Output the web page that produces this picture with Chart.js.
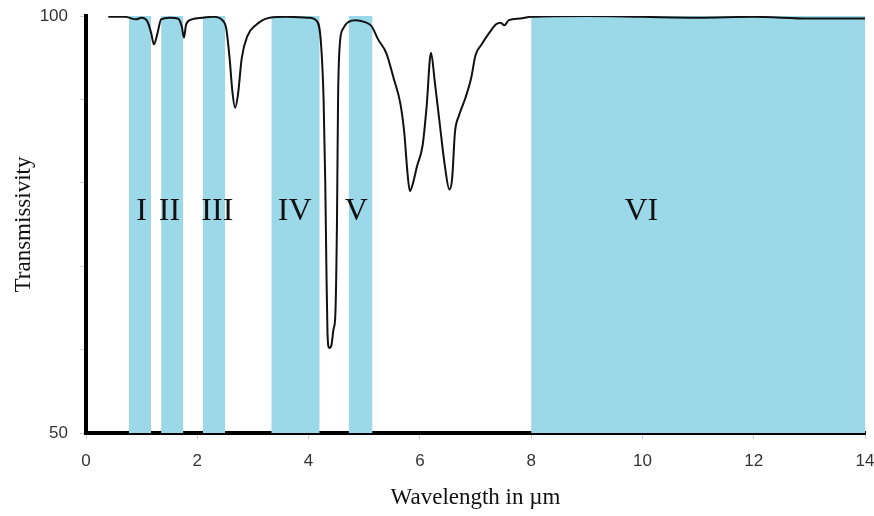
<!DOCTYPE html>
<html>
<head>
<meta charset="utf-8">
<script src="https://cdn.jsdelivr.net/npm/chart.js@4.4.1/dist/chart.umd.min.js"></script>
<style>
  html, body { margin: 0; padding: 0; background: #fff; }
  #wrap { width: 874px; height: 516px; }
</style>
</head>
<body>
<div id="wrap"><canvas id="irChart" width="874" height="516"></canvas></div>
<script>
// spectre de transmission atmosphérique + fenêtres I..VI

const wavelength = [0.4, 0.7, 0.9, 1.0, 1.1, 1.17, 1.22, 1.28, 1.35, 1.5, 1.65, 1.72, 1.76, 1.8, 1.9,
  2.1, 2.3, 2.45, 2.52, 2.58, 2.63, 2.68, 2.73, 2.8, 2.9, 3.05, 3.3, 3.6, 4.0, 4.15,
  4.22, 4.27, 4.3, 4.32, 4.34, 4.37, 4.41, 4.45, 4.48, 4.51, 4.53, 4.56, 4.62, 4.72, 4.85,
  5.0, 5.13, 5.25, 5.4, 5.53, 5.65, 5.72, 5.78, 5.82, 5.87, 5.95, 6.05, 6.12, 6.2, 6.27,
  6.35, 6.45, 6.53, 6.58, 6.63, 6.7, 6.82, 6.92, 7.0, 7.1, 7.25, 7.37, 7.45, 7.52, 7.6,
  7.8, 8.0, 9.0, 10.0, 11.0, 12.0, 13.0, 14.0];
const transmissivity = [99.9, 99.9, 99.6, 99.8, 99.4, 98, 96.6, 97.8, 99.6, 99.8, 99.7, 98.8, 97.4, 99, 99.6,
  99.8, 99.9, 99.5, 98.5, 95, 91, 89.0, 90.5, 95, 97.6, 98.9, 99.8, 99.9, 99.8, 99.4,
  97, 90, 80, 70, 62, 60.2, 60.5, 62.5, 64, 75, 90, 96.5, 98.5, 99.3, 99.5,
  99.3, 98.8, 97.2, 95.5, 92.5, 89.5, 86, 81, 79, 79.8, 82, 84.5, 89, 95.6, 92,
  87.5, 82, 79.2, 80.5, 86, 88, 90.2, 92.5, 95.3, 96.5, 98, 99.0, 99.2, 98.9, 99.5,
  99.7, 99.9, 100, 99.9, 99.8, 99.9, 99.7, 99.7];

// fenêtres atmosphériques (début / fin en µm)
const bandNames = ["I", "II", "III", "IV", "V", "VI"];
const bandStart = [0.77, 1.35, 2.1, 3.33, 4.72, 8.0];
const bandEnd = [1.17, 1.75, 2.5, 4.2, 5.15, 14.0];
const labelX = [1.0, 1.5, 2.36, 3.75, 4.86, 9.98];
const labelY = 76.5;

const xTicks = [0, 2, 4, 6, 8, 10, 12, 14];
const yLabelled = [50, 100];

const BAND_COLOR = "#9bd8e8";

const bandSets = bandNames.map((name, i) => ({
  label: name,
  data: [{ x: bandStart[i], y: 100 }, { x: bandEnd[i], y: 100 }],
  borderWidth: 0,
  pointRadius: 0,
  backgroundColor: BAND_COLOR,
  fill: "start",
  tension: 0,
  order: 2
}));

const curveSet = {
  label: "Transmissivity",
  data: wavelength.map((w, i) => ({ x: w, y: transmissivity[i] })),
  borderColor: "#111",
  borderWidth: 2,
  pointRadius: 0,
  fill: false,
  cubicInterpolationMode: "monotone",
  order: 0
};

const romanLabels = {
  id: "romanLabels",
  afterDatasetsDraw(chart) {
    const { ctx, scales: { x, y } } = chart;
    ctx.save();
    ctx.font = "32px 'Liberation Serif', 'DejaVu Serif', serif";
    ctx.fillStyle = "#111";
    ctx.textAlign = "center";
    ctx.textBaseline = "middle";
    bandNames.forEach((n, i) => {
      ctx.fillText(n, x.getPixelForValue(labelX[i]), y.getPixelForValue(labelY));
    });
    ctx.restore();
  }
};

new Chart(document.getElementById("irChart"), {
  type: "line",
  data: { datasets: [...bandSets, curveSet] },
  options: {
    responsive: false,
    animation: false,
    layout: { padding: { top: 16, right: 9, left: 0, bottom: 0 } },
    plugins: { legend: { display: false }, tooltip: { enabled: false } },
    scales: {
      x: {
        type: "linear",
        min: 0, max: 14,
        z: 1,
        afterFit: s => { s.height = 83; s.paddingRight = 0; s.paddingLeft = 0; },
        afterBuildTicks: s => { s.ticks = xTicks.map(v => ({ value: v })); },
        border: { display: true, color: "#000", width: 4 },
        grid: { drawOnChartArea: false, drawTicks: true, tickLength: 6, tickColor: "#ccc" },
        ticks: {
          color: "#333",
          padding: 12,
          font: { family: "'Liberation Sans', Arial, sans-serif", size: 17 },
          callback: v => String(v)
        },
        title: {
          display: true,
          text: "Wavelength in µm",
          color: "#111",
          padding: { top: 0, bottom: 4 },
          font: { family: "'Liberation Serif', 'DejaVu Serif', serif", size: 23 }
        }
      },
      y: {
        min: 50, max: 100,
        z: 1,
        afterFit: s => { s.width = 86; s.paddingTop = 0; s.paddingBottom = 0; },
        ticks: {
          stepSize: 10,
          color: "#333",
          padding: 12,
          font: { family: "'Liberation Sans', Arial, sans-serif", size: 17 },
          callback: v => yLabelled.includes(v) ? String(v) : ""
        },
        border: { display: true, color: "#000", width: 4 },
        grid: { drawOnChartArea: false, drawTicks: true, tickLength: 6, tickColor: "#ccc" },
        title: {
          display: true,
          text: "Transmissivity",
          color: "#111",
          padding: { top: 10, bottom: 0 },
          font: { family: "'Liberation Serif', 'DejaVu Serif', serif", size: 23 }
        }
      }
    }
  },
  plugins: [romanLabels]
});
</script>
</body>
</html>
